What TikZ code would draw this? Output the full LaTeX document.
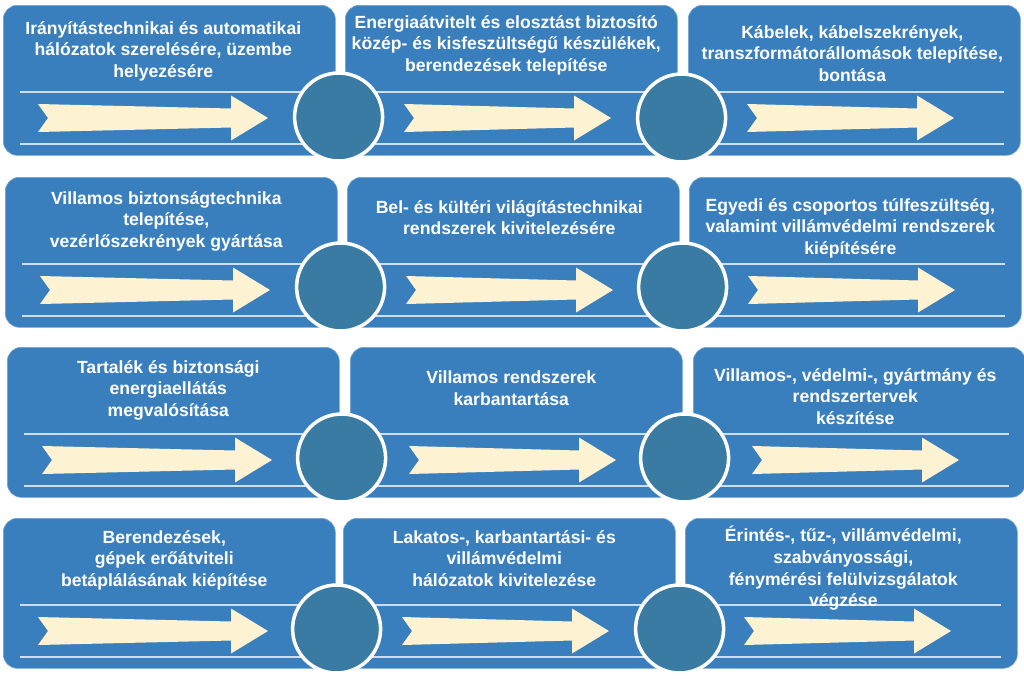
\documentclass[tikz,border=0pt]{standalone}
\usepackage{fontspec}
\setmainfont{Liberation Sans}
\usepackage{tikz}
\usetikzlibrary{positioning, calc}
\definecolor{tileblue}{RGB}{58,127,189}
\definecolor{hubblue}{RGB}{57,123,163}
\definecolor{railblue}{RGB}{205,222,241}
\definecolor{boltcream}{RGB}{253,242,210}

\begin{document}
\begin{tikzpicture}[x=1pt, y=-1pt,
  tile/.style    = {draw=tileblue!70!white, fill=tileblue, rounded corners=14pt,
                    minimum width=332pt, minimum height=150pt, inner sep=0pt,
                    line width=0.6pt, anchor=north west},
  rail/.style    = {draw=railblue, line width=1.5pt},
  bolt/.style    = {fill=boltcream},
  hub/.style     = {circle, fill=hubblue, draw=white, line width=3.5pt,
                    minimum size=88pt, inner sep=0pt},
  caption/.style = {text=white, font=\bfseries\fontsize{17.6}{21.7}\selectfont,
                    align=center, inner sep=0pt, anchor=north},
]
\useasboundingbox (0,0) rectangle (1024,678);

%% ── tiles ──────────────────────────────────────────────────────────────────
\node[tile] (t11) at (3,5)     {};
\node[tile] (t12) at (345,5)   {};
\node[tile] (t13) at (688,5)   {};
\node[tile] (t21) at (5,177)   {};
\node[tile] (t22) at (347,177) {};
\node[tile] (t23) at (689,177) {};
\node[tile] (t31) at (7,347)   {};
\node[tile] (t32) at (350,347) {};
\node[tile] (t33) at (693,347) {};
\node[tile] (t41) at (3,518)   {};
\node[tile] (t42) at (343,518) {};
\node[tile] (t43) at (685,518) {};

%% ── rails and arrows ───────────────────────────────────────────────────────
\foreach \t/\s/\l in {t11/35/230, t12/59/207, t13/59/207,
                      t21/35/230, t22/59/207, t23/59/207,
                      t31/35/230, t32/59/207, t33/59/207,
                      t41/35/230, t42/59/207, t43/59/207} {
  \draw[rail] ($(\t.north west)+(17,87)$)  -- ($(\t.north east)+(-17,87)$);
  \draw[rail] ($(\t.north west)+(17,139)$) -- ($(\t.north east)+(-17,139)$);
  \path (\t.north west) ++(\s,113) coordinate (tail);
  \fill[bolt] (tail) ++(0,-14) -- ++(\l-37,4.5) -- ++(0,-13) -- ++(37,22.5)
    -- ++(-37,22.5) -- ++(0,-13) -- ++(-\l+37,4.5) -- ++(10,-14) -- cycle;
}

%% ── hubs ───────────────────────────────────────────────────────────────────
\node[hub] (h11) at ($(t11.north east)+(3,112)$) {};
\node[hub] (h12) at ($(t12.north east)+(4,113)$) {};
\node[hub] (h21) at ($(t21.north east)+(3,110)$) {};
\node[hub] (h22) at ($(t22.north east)+(3,110)$) {};
\node[hub] (h31) at ($(t31.north east)+(2,111)$) {};
\node[hub] (h32) at ($(t32.north east)+(2,111)$) {};
\node[hub] (h41) at ($(t41.north east)+(1,111)$) {};
\node[hub] (h42) at ($(t42.north east)+(4,111)$) {};

%% ── captions ───────────────────────────────────────────────────────────────
\node[caption, below=16pt of t11.north, xshift=-6pt] (c11)
  {Irányítástechnikai és automatikai\\hálózatok szerelésére, üzembe\\helyezésére};
\node[caption, below=10pt of t12.north, xshift=-5pt] (c12)
  {Energiaátvitelt és elosztást biztosító\\közép- és kisfeszültségű készülékek,\\berendezések telepítése};
\node[caption, below=20pt of t13.north, xshift=-2pt] (c13)
  {Kábelek, kábelszekrények,\\transzformátorállomások telepítése,\\bontása};
\node[caption, below=14pt of t21.north, xshift=-5pt] (c21)
  {Villamos biztonságtechnika\\telepítése,\\vezérlőszekrények gyártása};
\node[caption, below=23pt of t22.north, xshift=-4pt] (c22)
  {Bel- és kültéri világítástechnikai\\rendszerek kivitelezésére};
\node[caption, below=21pt of t23.north, xshift=-5pt] (c23)
  {Egyedi és csoportos túlfeszültség,\\valamint villámvédelmi rendszerek\\kiépítésére};
\node[caption, below=13pt of t31.north, xshift=-5pt] (c31)
  {Tartalék és biztonsági\\energiaellátás\\megvalósítása};
\node[caption, below=24pt of t32.north, xshift=-5pt] (c32)
  {Villamos rendszerek\\karbantartása};
\node[caption, below=21pt of t33.north, xshift=-4pt] (c33)
  {Villamos-, védelmi-, gyártmány és\\rendszertervek\\készítése};
\node[caption, below=12pt of t41.north, xshift=-5pt] (c41)
  {Berendezések,\\gépek erőátviteli\\betáplálásának kiépítése};
\node[caption, below=12pt of t42.north, xshift=-5pt] (c42)
  {Lakatos-, karbantartási- és\\villámvédelmi\\hálózatok kivitelezése};
\node[caption, below=8pt of t43.north, xshift=-8pt] (c43)
  {Érintés-, tűz-, villámvédelmi,\\szabványossági,\\fénymérési felülvizsgálatok\\végzése};

\end{tikzpicture}
\end{document}
